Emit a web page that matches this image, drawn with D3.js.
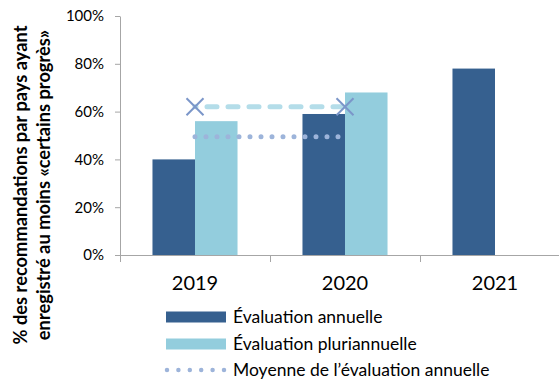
<!DOCTYPE html>
<html>
<head>
<meta charset="utf-8">
<script src="https://cdn.jsdelivr.net/npm/d3@7"></script>
<style>
  body { margin: 0; background: #fff; }
  svg { font-family: Lato, "Liberation Sans", sans-serif; }
</style>
</head>
<body>
<div id="chart"></div>
<script>
// data
var years = ["2019", "2020", "2021"];
var annuelle = [0.40, 0.59, 0.78];
var pluri = [0.56, 0.68, null];
var moyenneAnnuelle = 0.495;   // dotted line
var moyennePluri = 0.62;       // dashed line with crosses
var yTicks = [0, 0.2, 0.4, 0.6, 0.8, 1];
var series = ["Évaluation annuelle", "Évaluation pluriannuelle"];

var W = 559, H = 381;
var m = {left: 120, top: 16};
var w = 450, h = 239;

var dark = "#36608f", light = "#93cddd";

var svg = d3.select("#chart").append("svg")
  .attr("width", W).attr("height", H);

var g = svg.append("g")
  .attr("transform", "translate(" + m.left + "," + m.top + ")");

var x = d3.scaleBand().domain(years).range([0, w]).paddingInner(0).paddingOuter(0);
var xi = d3.scaleBand().domain([0, 1]).range([0, x.bandwidth() * 0.567])
var groupOff = (x.bandwidth() - xi.range()[1]) / 2;
var y = d3.scaleLinear().domain([0, 1]).range([h, 0]);

// bars
years.forEach(function(yr, i) {
  [annuelle[i], pluri[i]].forEach(function(v, k) {
    if (v == null) return;
    g.append("rect")
      .attr("x", x(yr) + groupOff + xi(k))
      .attr("y", y(v))
      .attr("width", xi.bandwidth())
      .attr("height", h - y(v))
      .attr("fill", k == 0 ? dark : light);
  });
});

// lines between 2019 and 2020 centres
var cx = function(yr) { return x(yr) + x.bandwidth() / 2; };

g.append("line")
  .attr("x1", cx("2019")).attr("x2", cx("2020"))
  .attr("y1", y(moyennePluri)).attr("y2", y(moyennePluri))
  .attr("stroke", "#b4dde9").attr("stroke-width", 5)
  .attr("stroke-linecap", "round")
  .attr("stroke-dasharray", "10,11")
  .attr("stroke-dashoffset", -12);

g.append("line")
  .attr("x1", cx("2019")).attr("x2", cx("2020") - 5)
  .attr("y1", y(moyenneAnnuelle)).attr("y2", y(moyenneAnnuelle))
  .attr("stroke", "#9db4da").attr("stroke-width", 5)
  .attr("stroke-linecap", "round")
  .attr("stroke-dasharray", "0,11");

// crosses
["2019", "2020"].forEach(function(yr) {
  var px = cx(yr), py = y(moyennePluri), s = 8.5;
  g.append("path")
    .attr("d", "M" + (px - s) + "," + (py - s) + "L" + (px + s) + "," + (py + s) +
               "M" + (px - s) + "," + (py + s) + "L" + (px + s) + "," + (py - s))
    .attr("stroke", "#7b96c9").attr("stroke-width", 2).attr("fill", "none");
});

// axes
var yAxis = g.append("g")
  .call(d3.axisLeft(y).tickValues(yTicks).tickFormat(d3.format(".0%")).tickSizeInner(5).tickSizeOuter(0).tickPadding(11));
yAxis.select(".domain").attr("stroke", "#a6a6a6");
yAxis.selectAll(".tick line").attr("stroke", "#a6a6a6");
yAxis.selectAll("text").attr("font-size", 15).attr("fill", "#000").attr("font-family", "Lato");

var xAxis = g.append("g")
  .attr("transform", "translate(0," + h + ")")
  .call(d3.axisBottom(x).tickSize(0).tickPadding(21));
xAxis.select(".domain").attr("stroke", "#a6a6a6").attr("d", "M0,0.5H" + (W - m.left));
xAxis.selectAll("text").attr("font-size", 20).attr("fill", "#000").attr("font-family", "Lato");
// category separator ticks
xAxis.selectAll(".sep")
  .data(years)
  .enter().append("line")
  .attr("class", "sep")
  .attr("x1", function(d) { return x(d) + 0.5; })
  .attr("x2", function(d) { return x(d) + 0.5; })
  .attr("y1", 0).attr("y2", 7)
  .attr("stroke", "#a6a6a6");

// y axis title
svg.append("text")
  .attr("transform", "translate(21,185) rotate(-90)")
  .attr("text-anchor", "middle")
  .attr("font-weight", "bold")
  .attr("font-size", 18.3)
  .selectAll("tspan")
  .data(["% des recommandations par pays ayant", "enregistré au moins «certains progrès»"])
  .enter().append("tspan")
  .attr("x", 0)
  .attr("dy", function(d, i) { return i == 0 ? "0.35em" : 23; })
  .text(function(d) { return d; });

// legend
var leg = svg.append("g").attr("transform", "translate(166,317)");
series.forEach(function(s, i) {
  leg.append("rect")
    .attr("x", 0).attr("y", i * 27 - 5.5)
    .attr("width", 60).attr("height", 11)
    .attr("fill", i == 0 ? dark : light);
  leg.append("text")
    .attr("x", 67).attr("y", i * 27)
    .attr("dy", "0.35em")
    .attr("font-size", 17.5)
    .text(s);
});
leg.append("line")
  .attr("x1", 1).attr("x2", 60)
  .attr("y1", 53).attr("y2", 53)
  .attr("stroke", "#9db4da").attr("stroke-width", 4.5)
  .attr("stroke-linecap", "round")
  .attr("stroke-dasharray", "0,11.4");
leg.append("text")
  .attr("x", 67).attr("y", 53)
  .attr("dy", "0.35em")
  .attr("font-size", 17.5)
  .text("Moyenne de l’évaluation annuelle");
</script>
</body>
</html>
